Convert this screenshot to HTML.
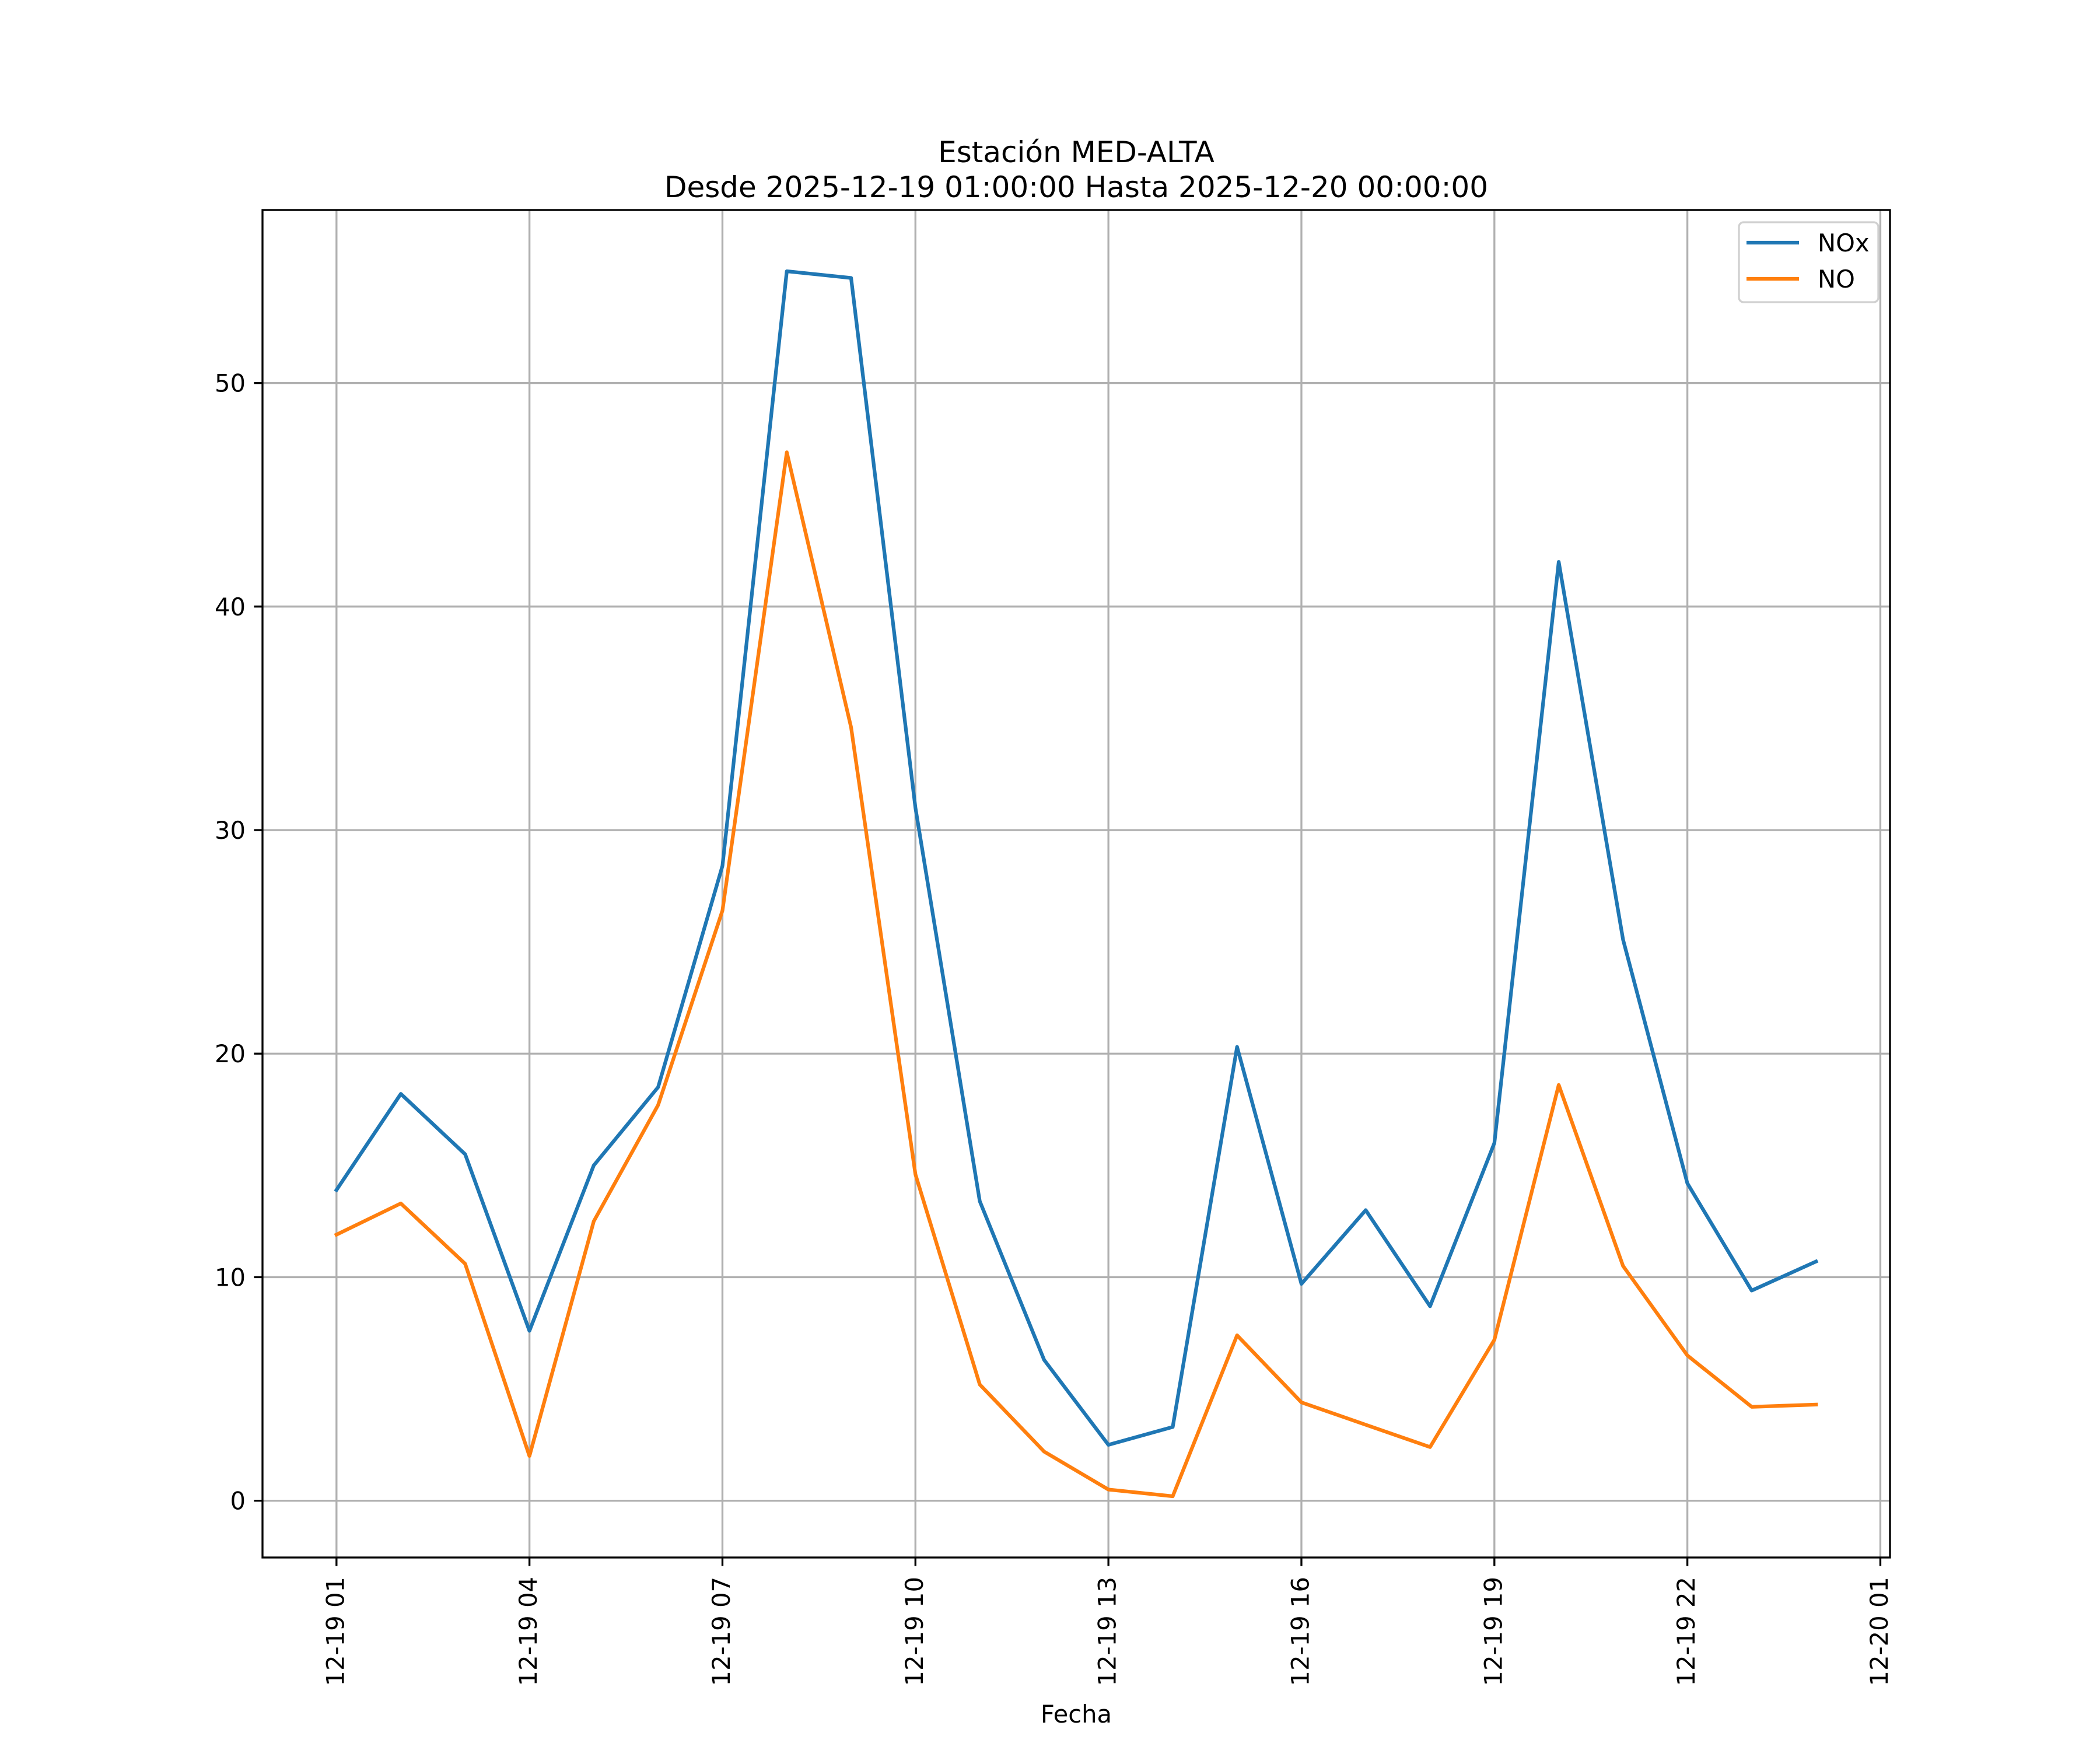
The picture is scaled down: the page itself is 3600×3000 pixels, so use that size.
<!DOCTYPE html>
<html><head><meta charset="utf-8">
<style>
html,body{margin:0;padding:0;background:#fff;}
svg{display:block;font-family:"DejaVu Sans","Liberation Sans",sans-serif;}
</style></head>
<body>
<svg id="chart" width="3600" height="3000" viewBox="0 0 3600 3000" xmlns="http://www.w3.org/2000/svg">
<rect x="0" y="0" width="3600" height="3000" fill="#fff"/>
<text x="1845" y="278" font-size="50" text-anchor="middle">Estación MED-ALTA</text>
<text x="1845" y="338" font-size="50" text-anchor="middle">Desde 2025-12-19 01:00:00 Hasta 2025-12-20 00:00:00</text>
<g id="grid"></g>
<g id="series"></g>
<rect x="450" y="360" width="2790" height="2310" fill="none" stroke="#000" stroke-width="3.33"/>
<g id="ticks"></g>
<text x="1845" y="2953" font-size="41.7" text-anchor="middle">Fecha</text>
<g>
<rect x="2981" y="381" width="239" height="137" rx="8" fill="#fff" fill-opacity="0.8" stroke="#d0d0d0" stroke-width="3.33"/>
<line x1="2994" y1="416" x2="3084" y2="416" stroke="#1f77b4" stroke-width="6.25"/>
<text x="3116" y="431" font-size="41.7">NOx</text>
<line x1="2994" y1="478" x2="3084" y2="478" stroke="#ff7f0e" stroke-width="6.25"/>
<text x="3116" y="493" font-size="41.7">NO</text>
</g>
</svg>
<script>
const hours = [1,2,3,4,5,6,7,8,9,10,11,12,13,14,15,16,17,18,19,20,21,22,23,24];
const noxValues = [13.9,18.2,15.5,7.6,15.0,18.5,28.4,55.0,54.7,31.0,13.4,6.3,2.5,3.3,20.3,9.7,13.0,8.7,16.0,42.0,25.1,14.2,9.4,10.7];
const noValues = [11.9,13.3,10.6,2.0,12.5,17.7,26.4,46.9,34.6,14.6,5.2,2.2,0.5,0.2,7.4,4.4,3.4,2.4,7.2,18.6,10.5,6.5,4.2,4.3];
const xTickHours = [1,4,7,10,13,16,19,22,25];
const xTickLabels = ["12-19 01","12-19 04","12-19 07","12-19 10","12-19 13","12-19 16","12-19 19","12-19 22","12-20 01"];
const yTickValues = [0,10,20,30,40,50];

const NS = "http://www.w3.org/2000/svg";
const L = 450, R = 3240, T = 360, B = 2670;
const allV = noxValues.concat(noValues);
const vmin = Math.min(...allV), vmax = Math.max(...allV);
const hmin = Math.min(...hours), hmax = Math.max(...hours);
const xm = (hmax - hmin) * 0.05, ym = (vmax - vmin) * 0.05;
const x0 = hmin - xm, x1 = hmax + xm, y0 = vmin - ym, y1 = vmax + ym;
function xs(h){ return L + (h - x0) / (x1 - x0) * (R - L); }
function ys(v){ return B - (v - y0) / (y1 - y0) * (B - T); }
function mk(tag, attrs, parent){ const e = document.createElementNS(NS, tag); for (const k in attrs) e.setAttribute(k, attrs[k]); parent.appendChild(e); return e; }
const grid = document.getElementById('grid'), ticks = document.getElementById('ticks'), series = document.getElementById('series');

xTickHours.forEach((h, i) => {
  const x = xs(h);
  const g = mk('line', {x1:x, y1:T, x2:x, y2:B, stroke:'#b0b0b0', 'stroke-width':3.33}, grid);
  
  
  const t = mk('line', {x1:x, y1:B, x2:x, y2:B+14.6, stroke:'#000', 'stroke-width':3.33}, ticks);
  
  
  const lab = mk('text', {x:0, y:0, 'font-size':41.7, 'text-anchor':'end', 'dominant-baseline':'central', transform:`translate(${x-2},${B+33}) rotate(-90)`}, ticks);
  lab.textContent = xTickLabels[i];
  
  
});
yTickValues.forEach(v => {
  const y = ys(v);
  const g = mk('line', {x1:L, y1:y, x2:R, y2:y, stroke:'#b0b0b0', 'stroke-width':3.33}, grid);
  
  
  const t = mk('line', {x1:L-14.6, y1:y, x2:L, y2:y, stroke:'#000', 'stroke-width':3.33}, ticks);
  
  
  const lab = mk('text', {x:L-29, y:y+15, 'font-size':41.7, 'text-anchor':'end'}, ticks);
  lab.textContent = String(v);
  
  
});
function drawLine(vals, color, name){
  const pts = hours.map((h, i) => xs(h).toFixed(1) + ',' + ys(vals[i]).toFixed(1)).join(' ');
  const p = mk('polyline', {points:pts, fill:'none', stroke:color, 'stroke-width':6.25, 'stroke-linejoin':'round', 'stroke-linecap':'square'}, series);
  
  
}
drawLine(noxValues, '#1f77b4', 'nox-line');
drawLine(noValues, '#ff7f0e', 'no-line');
</script>
</body></html>
